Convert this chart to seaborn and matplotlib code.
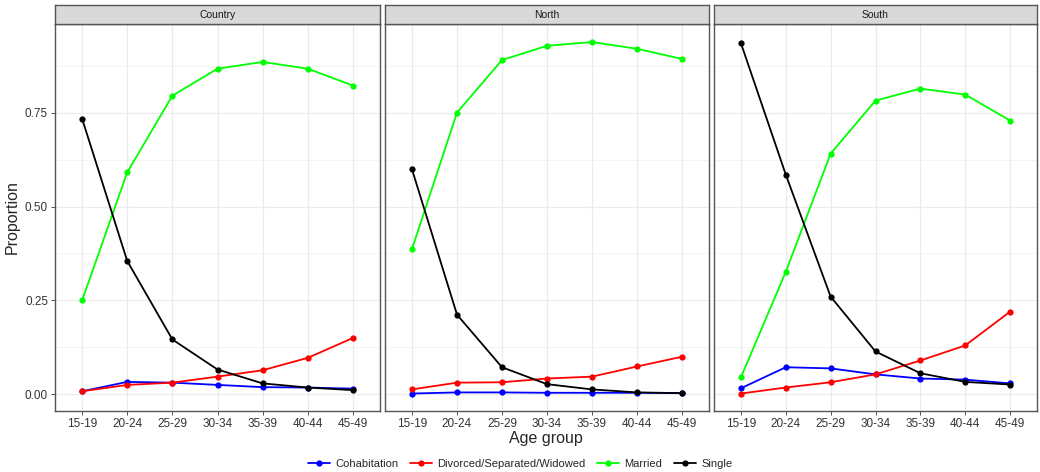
import pandas as pd
import seaborn as sns
import matplotlib.pyplot as plt
from matplotlib.lines import Line2D

age_groups = ["15-19", "20-24", "25-29", "30-34", "35-39", "40-44", "45-49"]
regions = ["Country", "North", "South"]
statuses = ["Cohabitation", "Divorced/Separated/Widowed", "Married", "Single"]
colori = ["#0000FF", "#FF0000", "#00FF00", "#000000"]

# valori
country_cohab = [0.008, 0.033, 0.031, 0.025, 0.019, 0.018, 0.015]
country_div = [0.008, 0.025, 0.031, 0.047, 0.064, 0.097, 0.150]
country_married = [0.250, 0.591, 0.795, 0.867, 0.885, 0.867, 0.822]
country_single = [0.734, 0.355, 0.146, 0.066, 0.029, 0.018, 0.011]

north_cohab = [0.002, 0.005, 0.005, 0.004, 0.004, 0.004, 0.003]
north_div = [0.013, 0.031, 0.032, 0.042, 0.047, 0.074, 0.100]
north_married = [0.387, 0.750, 0.890, 0.928, 0.938, 0.920, 0.893]
north_single = [0.599, 0.212, 0.072, 0.027, 0.013, 0.005, 0.003]

south_cohab = [0.016, 0.072, 0.069, 0.053, 0.042, 0.039, 0.029]
south_div = [0.002, 0.018, 0.032, 0.053, 0.090, 0.130, 0.220]
south_married = [0.045, 0.326, 0.641, 0.782, 0.814, 0.798, 0.729]
south_single = [0.935, 0.585, 0.260, 0.114, 0.056, 0.033, 0.026]

valori = {
    "Country": [country_cohab, country_div, country_married, country_single],
    "North": [north_cohab, north_div, north_married, north_single],
    "South": [south_cohab, south_div, south_married, south_single],
}

righe = []
for reg in regions:
    for st, serie in zip(statuses, valori[reg]):
        for ag, v in zip(age_groups, serie):
            righe.append({"region": reg, "status": st, "age": ag, "prop": v})
df = pd.DataFrame(righe)

sns.set_style("white")
plt.rcParams['font.family'] = ['Liberation Sans', 'DejaVu Sans']

W, H = 1040, 472
fig = plt.figure(figsize=(W / 100, H / 100), dpi=100)

lefts = [55, 385, 714]
rights = [380, 709, 1037]
top_px, bot_px, strip_top = 24, 411, 5

for ii, reg in enumerate(regions):
    x0 = lefts[ii] / W
    w = (rights[ii] - lefts[ii]) / W
    ax = fig.add_axes([x0, 1 - bot_px / H, w, (bot_px - top_px) / H])
    # griglia stile theme_bw
    for yv in [0.125, 0.375, 0.625, 0.875]:
        ax.axhline(yv, color="#f2f2f2", lw=0.6, zorder=0)
    for yv in [0, 0.25, 0.5, 0.75]:
        ax.axhline(yv, color="#ebebeb", lw=0.9, zorder=0)
    for xv in range(len(age_groups)):
        ax.axvline(xv, color="#ebebeb", lw=0.9, zorder=0)

    sub = df[df["region"] == reg]
    sns.lineplot(data=sub, x="age", y="prop", hue="status", hue_order=statuses,
                 palette=colori, marker="o", markersize=4.5, markeredgewidth=0,
                 linewidth=1.3, sort=False, legend=False, ax=ax)

    ax.set_xlim(-0.6, 6.6)
    ax.set_ylim(-0.0445, 0.986)
    ax.set_yticks([0, 0.25, 0.5, 0.75])
    ax.set_xlabel("")
    ax.set_ylabel("")
    if ii == 0:
        ax.set_yticklabels(["0.00", "0.25", "0.50", "0.75"])
        ax.set_ylabel("Proportion", fontsize=11.5, labelpad=4)
    else:
        ax.set_yticklabels([])
    ax.tick_params(axis="both", labelsize=8.5, color="#333333", length=3,
                   width=0.6, pad=2, labelcolor="#333333", left=(ii == 0), bottom=True)
    if ii > 0:
        ax.tick_params(axis="y", length=0)
    for sp in ax.spines.values():
        sp.set_color("#555555")
        sp.set_linewidth(1.0)

    # strip del pannello
    sax = fig.add_axes([x0, 1 - top_px / H, w, (top_px - strip_top) / H])
    sax.set_xticks([])
    sax.set_yticks([])
    sax.set_facecolor("#d9d9d9")
    for sp in sax.spines.values():
        sp.set_color("#555555")
        sp.set_linewidth(1.0)
    sax.text(0.5, 0.5, reg, ha="center", va="center", fontsize=7.5, color="#1a1a1a",
             transform=sax.transAxes)

fig.text((lefts[0] + rights[2]) / 2 / W, 1 - 439 / H, "Age group", ha="center",
         va="center", fontsize=11.5)

handles = [Line2D([0], [0], color=c, lw=1.3, marker="o", markersize=4.5,
                  markeredgewidth=0) for c in colori]
fig.legend(handles, statuses, loc="center", bbox_to_anchor=(0.5, 1 - 464 / H),
           ncol=4, frameon=False, fontsize=8, handlelength=2.0,
           columnspacing=1.0, handletextpad=0.5)

fig.savefig("out.png", dpi=100)
